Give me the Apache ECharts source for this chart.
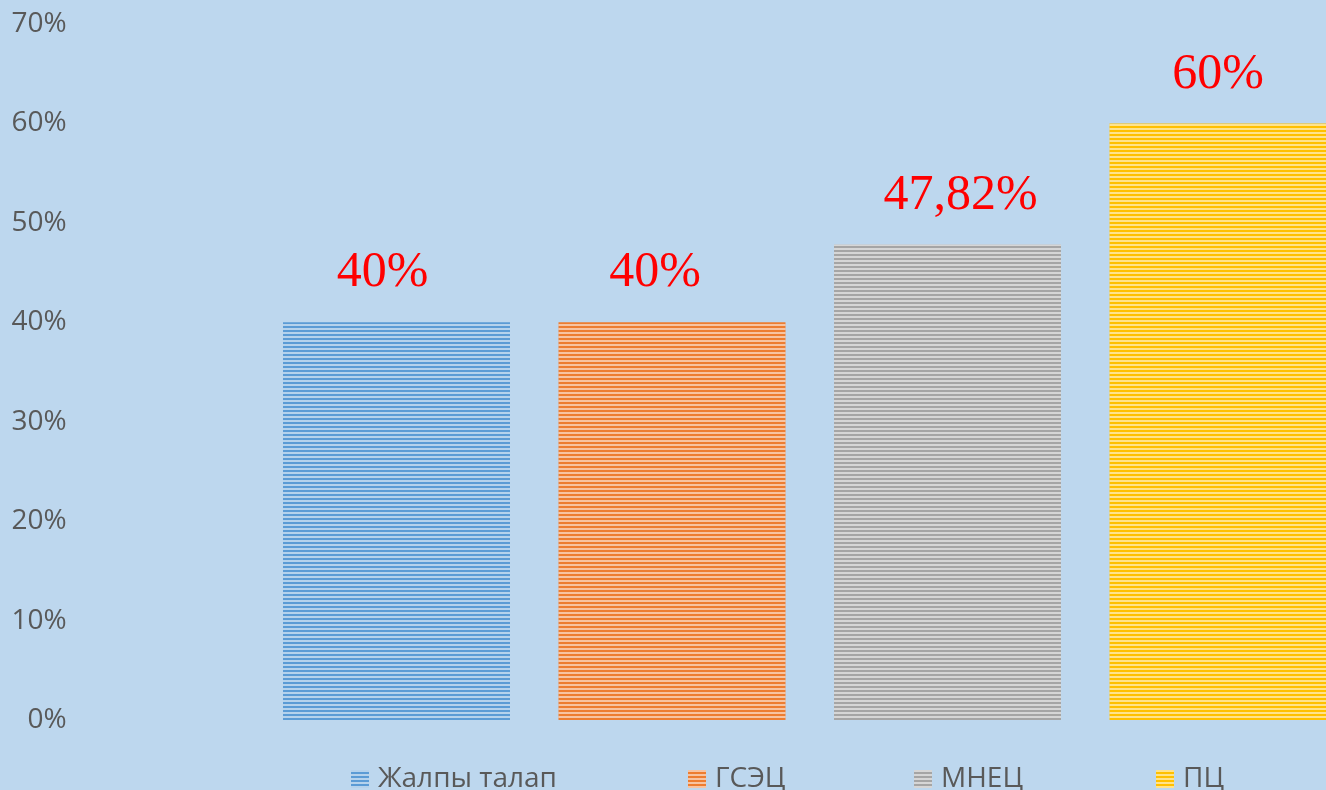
<!DOCTYPE html>
<html>
<head>
<meta charset="utf-8">
<script src="https://cdn.jsdelivr.net/npm/echarts@6/dist/echarts.min.js"></script>
<style>
  html, body { margin: 0; padding: 0; background: #BDD7EE; }
  #chart { width: 1326px; height: 790px; }
</style>
</head>
<body>
<div id="chart"></div>
<script>
const categories = ["Жалпы талап", "ГСЭЦ", "МНЕЦ", "ПЦ"];
const values = [40, 40, 47.82, 60];
const colors = ["#5B9BD5", "#ED7D31", "#A5A5A5", "#FFC000"];
const yTicks = [0, 10, 20, 30, 40, 50, 60, 70];
const legendLeft = [351, 688, 914, 1156];
// data labels in the source were nudged by hand
const labelShift = [-14, -17, 13, -5];

const chart = echarts.init(document.getElementById("chart"));

const series = categories.map((name, i) => ({
  name: name,
  type: "bar",
  stack: "all",
  barWidth: 227,
  data: categories.map((_, j) => (j === i ? values[i] : "-")),
  itemStyle: {
    color: colors[i],
    decal: {
      symbol: "rect",
      dashArrayX: [1, 0],
      dashArrayY: [2, 2],
      rotation: 0,
      color: "rgba(255,255,255,0.55)"
    }
  },
  label: {
    show: true,
    position: "top",
    distance: 24,
    offset: [labelShift[i], 0],
    color: "#FF0000",
    fontFamily: "Liberation Serif",
    fontSize: 50,
    formatter: (p) => String(p.value).replace(".", ",") + "%"
  }
}));

const legends = categories.map((name, i) => ({
  data: [name],
  left: legendLeft[i],
  top: 765,
  padding: 0,
  itemWidth: 18,
  itemHeight: 18,
  icon: "rect",
  textStyle: {
    color: "#595959",
    fontSize: 28,
    fontFamily: "Open Sans",
    padding: [0, 0, 0, 4]
  }
}));

chart.setOption({
  backgroundColor: "#BDD7EE",
  animation: false,
  grid: { left: 258.75, width: 1102, top: 24, bottom: 70, outerBoundsMode: "none" },
  legend: legends,
  xAxis: {
    type: "category",
    data: categories,
    axisLine: { show: false },
    axisTick: { show: false },
    axisLabel: { show: false }
  },
  yAxis: {
    type: "value",
    min: yTicks[0],
    max: yTicks[yTicks.length - 1],
    interval: 10,
    splitLine: { show: false },
    axisLine: { show: false },
    axisTick: { show: false },
    axisLabel: {
      margin: 192,
      color: "#595959",
      fontSize: 28,
      fontFamily: "Open Sans",
      formatter: "{value}%"
    }
  },
  series: series
});
</script>
</body>
</html>
